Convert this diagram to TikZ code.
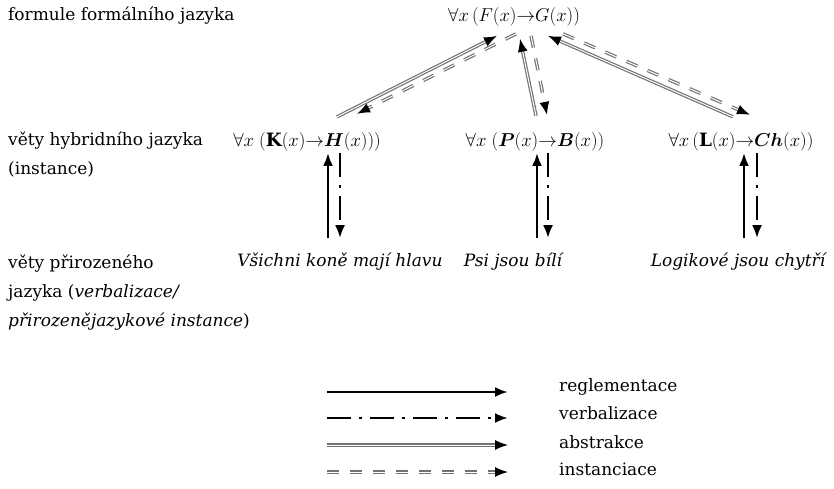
\documentclass[tikz,border=0pt]{standalone}
\usepackage{graphicx}
\usepackage{fontspec}
\setmainfont{DejaVu Serif}
\usepackage{bm}
\usetikzlibrary{arrows.meta}
\definecolor{absgray}{gray}{0.45}
\newcommand{\fml}[1]{\scalebox{1.08}{$#1$}}

\begin{document}
\begin{tikzpicture}[x=1pt,y=-1pt,>={Latex[length=13pt,width=10pt]},
	every node/.style={font=\fontsize{17}{28.8}\selectfont,inner sep=2pt},
	level label/.style={anchor=north west,align=left},
	formula/.style={anchor=base},
	sentence/.style={anchor=base,font=\fontsize{17}{28.8}\selectfont\itshape},
	legend label/.style={anchor=base west},
	regl/.style={->,line width=2.6pt},
	verb/.style={->,line width=2.6pt,dash pattern=on 24pt off 8pt on 3pt off 8pt},
	abstr/.style={->,draw=absgray,double,double distance=1pt,line width=1.2pt,
		>={Latex[length=13pt,width=10pt,color=black]}},
	inst/.style={abstr,dash pattern=on 12pt off 11pt}];

	\useasboundingbox (0,0) rectangle (834,488);

	% levels
	\node[level label] (lvlF) at (6,5) {formule formálního jazyka};
	\node[level label] (lvlH) at (6,130) {věty hybridního jazyka\\(instance)};
	\node[level label] (lvlN) at (6,253) {věty přirozeného\\jazyka (\textit{verbalizace/}\\\textit{přirozenějazykové instance})};

	% formulas
	\node[formula] (F) at (514,21) {\fml{\forall x\,(F(x)\mathord{\rightarrow}G(x))}};
	\node[formula] (K) at (307,146) {\fml{\forall x\;(\mathbf{K}(x)\mathord{\rightarrow}\bm{H}(x)))}};
	\node[formula] (P) at (535,146) {\fml{\forall x\;(\bm{P}(x)\mathord{\rightarrow}\bm{B}(x))}};
	\node[formula] (L) at (741,146) {\fml{\forall x\,(\mathbf{L}(x)\mathord{\rightarrow}\bm{Ch}(x))}};

	% sentences
	\node[sentence] (V) at (340,266) {Všichni koně mají hlavu};
	\node[sentence] (S) at (513,266) {Psi jsou bílí};
	\node[sentence] (G) at (738,266) {Logikové jsou chytří};

	% reglementace / verbalizace
	\draw[regl] ([xshift=-12pt,yshift=12pt]V.north) -- ([xshift=-12pt]V.north |- K.south);
	\draw[verb] (V.north |- K.south) -- ([yshift=12pt]V.north);
	\draw[regl] ([xshift=24pt,yshift=12pt]S.north) -- ([xshift=24pt]S.north |- P.south);
	\draw[verb] ([xshift=35pt]S.north |- P.south) -- ([xshift=35pt,yshift=12pt]S.north);
	\draw[regl] ([xshift=6pt,yshift=12pt]G.north) -- ([xshift=6pt]G.north |- L.south);
	\draw[verb] ([xshift=19pt]G.north |- L.south) -- ([xshift=19pt,yshift=12pt]G.north);

	% abstrakce / instanciace
	\draw[abstr] ([xshift=30pt,yshift=13pt]K.north) -- ([xshift=-17pt,yshift=-8pt]F.south);
	\draw[inst] ([xshift=2pt,yshift=-6pt]F.south) -- ([xshift=50pt,yshift=16pt]K.north);
	\draw[abstr] ([xshift=1pt,yshift=14pt]P.north) -- ([xshift=6pt,yshift=-11pt]F.south);
	\draw[inst] ([xshift=17pt,yshift=-8pt]F.south) -- ([xshift=12pt,yshift=15pt]P.north);
	\draw[abstr] ([xshift=-8pt,yshift=13pt]L.north) -- ([xshift=34pt,yshift=-8pt]F.south);
	\draw[inst] ([xshift=49pt,yshift=-6pt]F.south) -- ([xshift=9pt,yshift=15pt]L.north);

	% legend
	\node[legend label] (lr) at (557,391) {reglementace};
	\node[legend label] (lv) at (557,419) {verbalizace};
	\node[legend label] (la) at (557,448) {abstrakce};
	\node[legend label] (li) at (557,475) {instanciace};
	\coordinate (lr0) at (327,392); \coordinate (lr1) at (508,392);
	\coordinate (lv0) at (327,418); \coordinate (lv1) at (508,418);
	\coordinate (la0) at (327,445); \coordinate (la1) at (508,445);
	\coordinate (li0) at (327,472); \coordinate (li1) at (508,472);
	\draw[regl] (lr0) -- (lr1);
	\draw[verb] (lv0) -- (lv1);
	\draw[abstr] (la0) -- (la1);
	\draw[inst] (li0) -- (li1);

\end{tikzpicture}
\end{document}
